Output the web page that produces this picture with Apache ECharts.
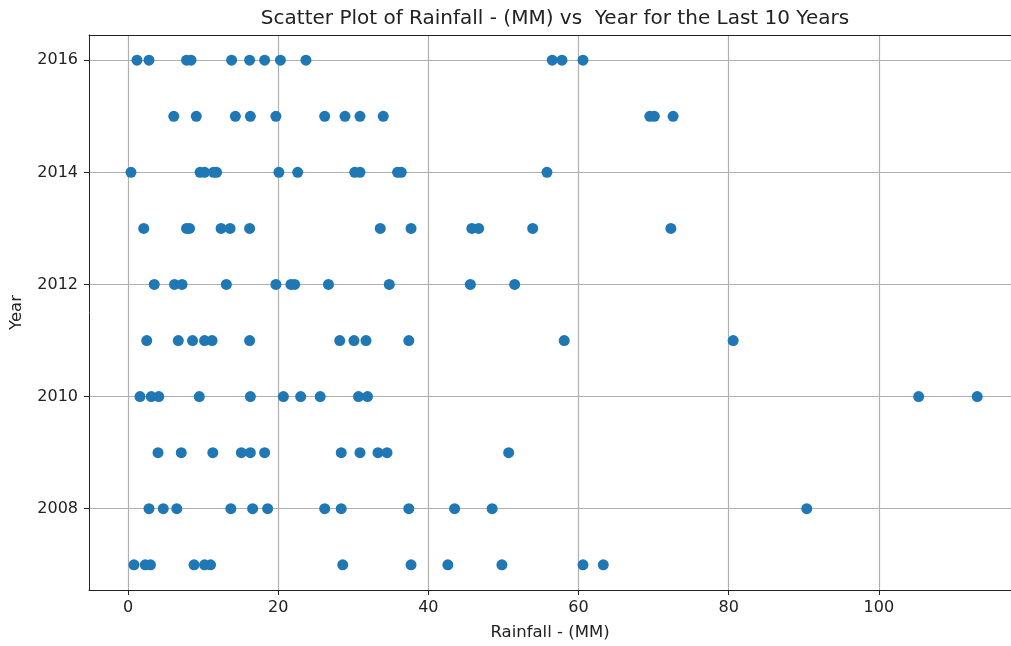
<!DOCTYPE html>
<html>
<head>
<meta charset="utf-8">
<script src="https://cdn.jsdelivr.net/npm/echarts@6/dist/echarts.min.js"></script>
<style>
  html, body { margin: 0; padding: 0; background: #fff; }
  #main { width: 1011px; height: 646px; }
</style>
</head>
<body>
<div id="main"></div>
<script>
// rainfall (MM)
var rain2016 = [1.2, 2.8, 7.8, 8.4, 13.8, 16.2, 18.2, 20.3, 23.7, 56.5, 57.8, 60.6];
var rain2015 = [6.1, 9.1, 14.3, 16.3, 19.7, 26.2, 28.9, 30.9, 34.0, 69.5, 70.1, 72.6];
var rain2014 = [0.4, 9.6, 10.2, 11.4, 11.8, 20.1, 22.6, 30.2, 30.9, 35.9, 36.4, 55.8];
var rain2013 = [2.1, 7.8, 8.2, 12.4, 13.6, 16.2, 33.6, 37.7, 45.8, 46.7, 53.9, 72.3];
var rain2012 = [3.5, 6.2, 7.2, 13.1, 19.7, 21.7, 22.2, 26.7, 34.8, 45.6, 51.5];
var rain2011 = [2.5, 6.7, 8.6, 10.2, 11.2, 16.2, 28.2, 30.1, 31.7, 37.4, 58.1, 80.6];
var rain2010 = [1.6, 3.1, 4.1, 9.5, 16.3, 20.7, 23.0, 25.6, 30.7, 31.9, 105.3, 113.1];
var rain2009 = [4.0, 7.1, 11.3, 15.1, 16.3, 18.2, 28.4, 30.9, 33.3, 34.5, 50.7];
var rain2008 = [2.8, 4.7, 6.5, 13.7, 16.6, 18.6, 26.2, 28.4, 37.4, 43.5, 48.5, 90.4];
var rain2007 = [0.8, 2.3, 3.0, 8.8, 10.2, 11.0, 28.6, 37.7, 42.6, 49.8, 60.6, 63.3];

var years = [2007, 2008, 2009, 2010, 2011, 2012, 2013, 2014, 2015, 2016];
var rainByYear = [rain2007, rain2008, rain2009, rain2010, rain2011, rain2012, rain2013, rain2014, rain2015, rain2016];

var xTicks = [0, 20, 40, 60, 80, 100];
var yTicks = [2008, 2010, 2012, 2014, 2016];

var points = [];
years.forEach(function (yr, i) {
  rainByYear[i].forEach(function (v) {
    points.push([v, yr]);
  });
});

var myChart = echarts.init(document.getElementById('main'));
var font = 'DejaVu Sans';
var xMin = -5.19, xMax = 117.6;

var option = {
  animation: false,
  textStyle: { fontFamily: font },
  title: {
    text: 'Scatter Plot of Rainfall - (MM) vs  Year for the Last 10 Years',
    left: 550,
    textAlign: 'center',
    top: 4,
    textStyle: { fontFamily: font, fontSize: 20, fontWeight: 'normal', color: '#222' }
  },
  grid: {
    left: 89,
    top: 35,
    right: 0,
    bottom: 56
  },
  xAxis: [{
    type: 'value',
    min: xMin,
    max: xMax,
    name: 'Rainfall - (MM)',
    nameLocation: 'middle',
    nameGap: 34,
    nameTextStyle: { fontFamily: font, fontSize: 16.5, color: '#222' },
    axisLine: { show: true, onZero: false, lineStyle: { color: '#222', width: 1 } },
    axisTick: { show: true, length: 5, lineStyle: { color: '#222' }, customValues: xTicks },
    axisLabel: { margin: 10, fontSize: 16, color: '#222', fontFamily: font, customValues: xTicks },
    splitLine: { show: true, lineStyle: { color: '#b0b0b0', width: 1.2 } }
  }, {
    // top spine only
    type: 'value',
    position: 'top',
    min: xMin,
    max: xMax,
    axisLine: { show: true, onZero: false, lineStyle: { color: '#222', width: 1 } },
    axisTick: { show: false },
    axisLabel: { show: false },
    splitLine: { show: false }
  }],
  yAxis: {
    type: 'value',
    min: 2006.55,
    max: 2016.45,
    name: 'Year',
    nameLocation: 'middle',
    nameGap: 64,
    nameTextStyle: { fontFamily: font, fontSize: 16.5, color: '#222' },
    axisLine: { show: true, onZero: false, lineStyle: { color: '#222', width: 1 } },
    axisTick: { show: true, length: 5, lineStyle: { color: '#222' }, customValues: yTicks },
    axisLabel: {
      margin: 11, fontSize: 16, color: '#222', fontFamily: font, customValues: yTicks,
      formatter: function (v) { return String(v); }
    },
    splitLine: { show: true, lineStyle: { color: '#b0b0b0', width: 1.2 } }
  },
  series: [{
    type: 'scatter',
    xAxisIndex: 0,
    symbol: 'circle',
    symbolSize: 11,
    itemStyle: { color: '#1f77b4', opacity: 1 },
    data: points
  }]
};
myChart.setOption(option);
</script>
</body>
</html>
